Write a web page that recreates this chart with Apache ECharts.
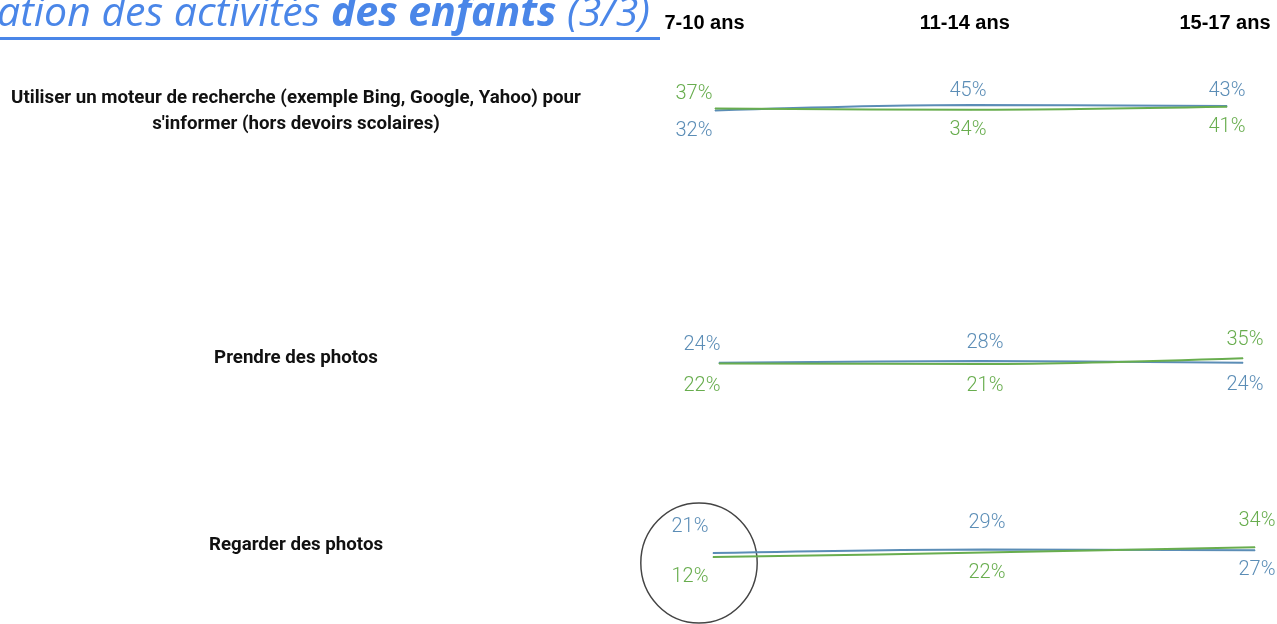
<!DOCTYPE html>
<html>
<head>
<meta charset="utf-8">
<script src="https://cdn.jsdelivr.net/npm/echarts@6/dist/echarts.min.js"></script>
<style>
html,body{margin:0;padding:0;background:#fff;}
#chart{width:1277px;height:624px;}
</style>
</head>
<body>
<div id="chart"></div>
<script>
// ---- data ----
const ages = ['7-10 ans', '11-14 ans', '15-17 ans'];
const activities = [
  "Utiliser un moteur de recherche (exemple Bing, Google, Yahoo) pour\ns'informer (hors devoirs scolaires)",
  'Prendre des photos',
  'Regarder des photos'
];
const blueSearch = [32, 45, 43];
const greenSearch = [37, 34, 41];
const bluePrendre = [24, 28, 24];
const greenPrendre = [22, 21, 35];
const blueRegarder = [21, 29, 27];
const greenRegarder = [12, 22, 34];
const titleParts = ['ation des activités ', 'des enfants', ' (3/3)'];

// ---- layout / style ----
const BLUE = '#5b8db6';
const GREEN = '#68ad4e';
const TITLE_BLUE = '#4a86e8';
const rows = [
  {blue: blueSearch, green: greenSearch, left: 715, right: 50, top: 82, height: 42, labelY: 111, dUp: 4, dDown: 10, offX: [-21, -3, 0]},
  {blue: bluePrendre, green: greenPrendre, left: 719, right: 34, top: 331.5, height: 41, labelY: 358, dUp: 7.5, dDown: 12, offX: [-17, 4, 2]},
  {blue: blueRegarder, green: greenRegarder, left: 713, right: 22, top: 517.5, height: 45, labelY: 545, dUp: 15.5, dDown: 9.5, offX: [-23, 3, 2]}
];

const chart = echarts.init(document.getElementById('chart'), null, {renderer: 'canvas'});

const grids = [{left: 704.5, right: 52, top: 40, height: 1}];
const xAxes = [{
  gridIndex: 0, type: 'category', data: ages, boundaryGap: false, position: 'top',
  axisLine: {show: false}, axisTick: {show: false}, splitLine: {show: false},
  axisLabel: {show: true, margin: 7, color: '#000', fontFamily: 'Liberation Sans', fontWeight: 'bold', fontSize: 20}
}];
const yAxes = [{gridIndex: 0, type: 'value', show: false, min: 0, max: 100}];
const series = [];

function mkData(vals, other, row, color) {
  return vals.map((v, i) => {
    const up = v >= other[i];
    return {
      value: v,
      label: {
        show: true,
        position: up ? 'top' : 'bottom',
        distance: up ? row.dUp : row.dDown,
        offset: [row.offX[i], 0],
        formatter: '{c}%',
        color: color,
        fontFamily: 'Roboto',
        fontWeight: 300,
        fontSize: 20
      }
    };
  });
}

rows.forEach((row, r) => {
  const gi = r + 1;
  grids.push({left: row.left, right: row.right, top: row.top, height: row.height});
  xAxes.push({gridIndex: gi, type: 'category', data: ages, boundaryGap: false, show: false});
  yAxes.push({gridIndex: gi, type: 'value', min: 0, max: 100, show: false});
  [['blue', BLUE, row.blue, row.green], ['green', GREEN, row.green, row.blue]].forEach(([nm, col, vals, other]) => {
    series.push({
      name: nm + r, type: 'line', xAxisIndex: gi, yAxisIndex: gi,
      data: mkData(vals, other, row, col),
      smooth: 0.35,
      symbol: 'circle', symbolSize: 1,
      itemStyle: {color: col},
      lineStyle: {color: col, width: 2},
      silent: true, animation: false
    });
  });
});

const graphics = [
  {
    type: 'text', left: -3, top: -6,
    style: {
      text: '{n|' + titleParts[0] + '}{b|' + titleParts[1] + '}{n|' + titleParts[2] + '}',
      fill: TITLE_BLUE,
      rich: {
        n: {fontFamily: 'Open Sans', fontStyle: 'italic', fontSize: 41, fill: TITLE_BLUE},
        b: {fontFamily: 'Open Sans', fontStyle: 'italic', fontWeight: 'bold', fontSize: 41, fill: TITLE_BLUE}
      }
    }
  },
  {type: 'rect', shape: {x: 0, y: 37, width: 660, height: 3}, style: {fill: TITLE_BLUE}},
  {
    type: 'circle', shape: {cx: 0, cy: 0, r: 60}, x: 699, y: 563, scaleX: 0.97, scaleY: 1,
    style: {fill: 'none', stroke: '#444', lineWidth: 1.5}
  }
];
rows.forEach((row, r) => {
  graphics.push({
    type: 'text', x: 296, y: row.labelY,
    style: {
      text: activities[r], textAlign: 'center', textVerticalAlign: 'middle',
      fontFamily: 'Roboto', fontWeight: 'bold', fontSize: 18.7, lineHeight: 26, fill: '#111'
    }
  });
});

chart.setOption({
  animation: false,
  grid: grids,
  xAxis: xAxes,
  yAxis: yAxes,
  series: series,
  graphic: graphics
});
</script>
</body>
</html>
